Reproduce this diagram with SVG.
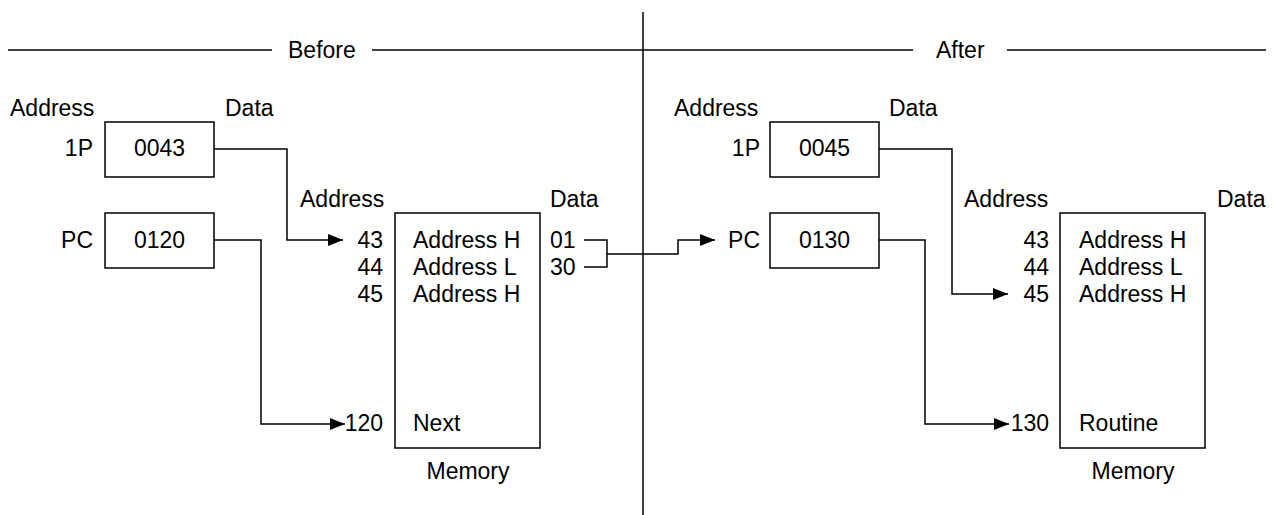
<svg xmlns="http://www.w3.org/2000/svg" width="1274" height="515" viewBox="0 0 1274 515">
<defs>
<style>
text{font-family:"Liberation Sans",Arial,sans-serif;font-size:23px;fill:#000}
.e{text-anchor:end}.m{text-anchor:middle}
.ln{fill:none;stroke:#000;stroke-width:1.5}
.bx{fill:#fff;stroke:#000;stroke-width:1.5}
</style>
<marker id="ah" markerUnits="userSpaceOnUse" markerWidth="16" markerHeight="14" refX="15" refY="6" orient="auto">
<path d="M0,0L15,6L0,12Z" fill="#000"/>
</marker>
</defs>
<g id="frame">
<line class="ln" x1="643" y1="12" x2="643" y2="515"/>
<line class="ln" x1="8" y1="50" x2="272" y2="50"/>
<line class="ln" x1="372" y1="50" x2="913" y2="50"/>
<line class="ln" x1="1007" y1="50" x2="1266" y2="50"/>
<text x="288" y="58">Before</text>
<text x="936" y="58">After</text>
</g>
<g id="before-registers">
<text x="10" y="116">Address</text>
<text x="225" y="116">Data</text>
<g id="b-1p"><rect class="bx" x="105" y="122" width="109" height="55"/><text class="e" x="93" y="156">1P</text><text class="m" x="159.5" y="156">0043</text></g>
<g id="b-pc"><rect class="bx" x="105" y="213" width="109" height="55"/><text class="e" x="93" y="248">PC</text><text class="m" x="159.5" y="248">0120</text></g>
</g>
<g id="before-memory">
<text x="300" y="207">Address</text>
<text x="550" y="207">Data</text>
<rect class="bx" x="395" y="213" width="145" height="235"/>
<text class="e" x="383" y="248">43</text><text x="413" y="248">Address H</text><text x="550" y="248">01</text>
<text class="e" x="383" y="275">44</text><text x="413" y="275">Address L</text><text x="550" y="275">30</text>
<text class="e" x="383" y="302">45</text><text x="413" y="302">Address H</text>
<text class="e" x="383" y="431">120</text><text x="413" y="431">Next</text>
<text class="m" x="468" y="479">Memory</text>
</g>
<g id="after-registers">
<text x="674" y="116">Address</text>
<text x="889" y="116">Data</text>
<g id="a-1p"><rect class="bx" x="770" y="122" width="109" height="55"/><text class="e" x="760" y="156">1P</text><text class="m" x="824.5" y="156">0045</text></g>
<g id="a-pc"><rect class="bx" x="770" y="213" width="109" height="55"/><text class="e" x="760" y="248">PC</text><text class="m" x="824.5" y="248">0130</text></g>
</g>
<g id="after-memory">
<text x="964" y="207">Address</text>
<text x="1217" y="207">Data</text>
<rect class="bx" x="1060" y="213" width="145" height="235"/>
<text class="e" x="1049" y="248">43</text><text x="1079" y="248">Address H</text>
<text class="e" x="1049" y="275">44</text><text x="1079" y="275">Address L</text>
<text class="e" x="1049" y="302">45</text><text x="1079" y="302">Address H</text>
<text class="e" x="1049" y="431">130</text><text x="1079" y="431">Routine</text>
<text class="m" x="1133" y="479">Memory</text>
</g>
<g id="connectors">
<polyline class="ln" points="214,149 287,149 287,240 343,240" marker-end="url(#ah)"/>
<polyline class="ln" points="214,240 261,240 261,424 345,424" marker-end="url(#ah)"/>
<polyline class="ln" points="584,240 607,240 607,267 584,267"/>
<polyline class="ln" points="607,254 678,254 678,240 715,240" marker-end="url(#ah)"/>
<polyline class="ln" points="879,149 952,149 952,294 1008,294" marker-end="url(#ah)"/>
<polyline class="ln" points="879,240 925,240 925,424 1009,424" marker-end="url(#ah)"/>
</g>
</svg>
